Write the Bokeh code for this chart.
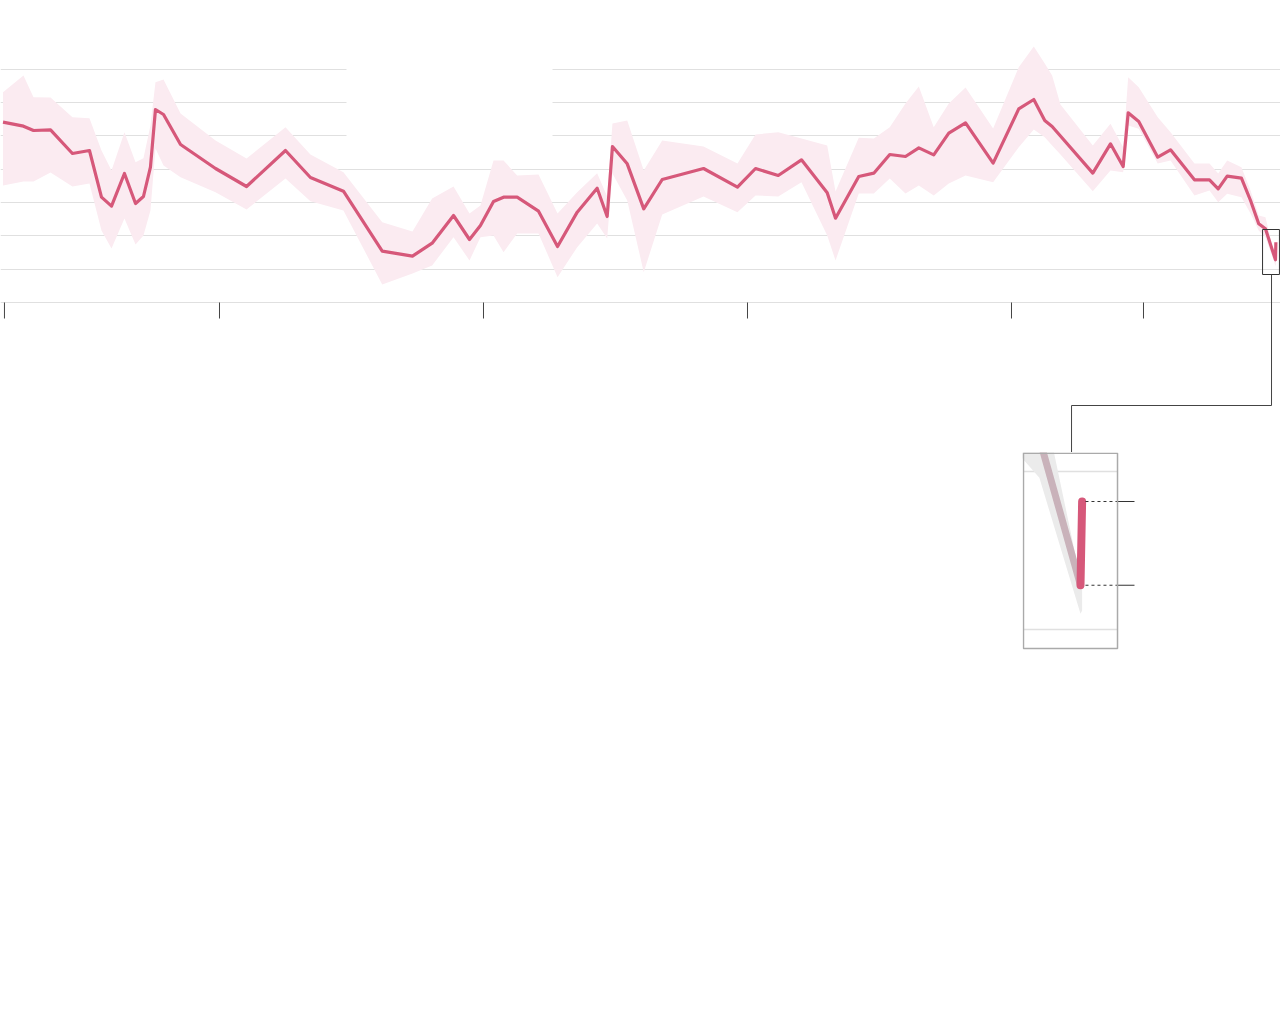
from bokeh.plotting import figure
from bokeh.layouts import column, row
from bokeh.models import Range1d, Grid, FixedTicker, Spacer, ColumnDataSource
from bokeh.embed import file_html
from bokeh.resources import INLINE

# ---------------- data (decimal year, percent) ----------------
years = [2008.36, 2008.515, 2008.591, 2008.720, 2008.886, 2009.015, 2009.106, 2009.182,
         2009.280, 2009.364, 2009.424, 2009.477, 2009.515, 2009.576, 2009.705, 2009.970,
         2010.205, 2010.500, 2010.689, 2010.939, 2011.233, 2011.462, 2011.611, 2011.773,
         2011.894, 2011.977, 2012.076, 2012.152, 2012.255, 2012.417, 2012.561, 2012.710,
         2012.861, 2012.937, 2012.977, 2013.089, 2013.214, 2013.354, 2013.667, 2013.924,
         2014.061, 2014.233, 2014.409, 2014.604, 2014.667, 2014.843, 2014.957, 2015.078,
         2015.197, 2015.298, 2015.411, 2015.525, 2015.652, 2015.861, 2016.055, 2016.169,
         2016.252, 2016.308, 2016.371, 2016.616, 2016.750, 2016.846, 2016.884, 2016.964,
         2017.108, 2017.205, 2017.386, 2017.500, 2017.566, 2017.634, 2017.742, 2017.811,
         2017.873, 2017.924, 2018.000, 2018.003]
approval = [57.05, 56.45, 55.8, 55.9, 52.35, 52.8, 45.8, 44.45,
            49.35, 44.85, 45.9, 50.3, 58.95, 58.2, 53.7, 50.1,
            47.4, 52.8, 48.75, 46.7, 37.7, 36.95, 38.9, 43.05,
            39.45, 41.55, 45.15, 45.8, 45.8, 43.7, 38.4, 43.55,
            47.15, 42.9, 53.4, 50.8, 44.05, 48.45, 50.1, 47.3,
            50.1, 49.05, 51.4, 46.45, 42.65, 48.9, 49.4, 52.2,
            51.9, 53.2, 52.15, 55.4, 56.95, 50.9, 59.05, 60.45,
            57.3, 56.4, 54.98, 49.4, 53.8, 50.4, 58.45, 57.15,
            51.8, 52.9, 48.4, 48.4, 47.05, 48.95, 48.65, 45.3,
            41.8, 41.05, 36.4, 39.05]
upper = [61.55, 64.05, 60.8, 60.75, 57.8, 57.65, 52.8, 49.8,
         55.55, 51.05, 51.65, 56.55, 63.05, 63.45, 58.35, 54.3,
         51.6, 56.3, 52.2, 49.55, 42.05, 40.65, 45.6, 47.4,
         43.35, 44.55, 51.3, 51.3, 49.05, 49.2, 43.35, 46.55,
         49.4, 45.9, 56.85, 57.3, 49.8, 54.3, 53.4, 50.85,
         55.2, 55.55, 54.6, 53.55, 46.65, 54.7, 54.6, 56.3,
         59.85, 62.4, 56.3, 59.85, 62.25, 56.1, 65.3, 68.4,
         65.85, 64.05, 59.7, 53.55, 56.8, 53.3, 63.8, 62.3,
         57.8, 55.55, 50.85, 50.85, 49.35, 51.3, 50.3, 46.8,
         43.05, 42.8, 36.6, 39.5]
lower = [47.55, 48.15, 48.15, 49.5, 47.4, 47.85, 40.8, 38.1,
         42.6, 38.7, 40.05, 43.8, 53.1, 50.55, 48.8, 46.55,
         43.95, 48.6, 45.2, 43.8, 32.7, 34.35, 35.55, 39.8,
         36.3, 39.8, 40.05, 37.55, 40.35, 40.35, 33.8, 38.3,
         41.85, 39.6, 49.35, 45.3, 34.55, 43.2, 45.9, 43.55,
         46.05, 45.9, 48.05, 40.05, 36.3, 46.35, 46.35, 48.6,
         46.35, 47.55, 46.05, 47.85, 49.05, 48.05, 53.3, 55.95,
         54.8, 53.55, 52.2, 46.7, 49.8, 49.55, 56.55, 56.05,
         50.85, 51.3, 46.05, 46.8, 45.05, 46.3, 45.8, 43.35,
         40.8, 39.8, 35.5, 35.6]

grid_values = [30, 35, 40, 45, 50, 55, 60, 65]
tick_years = [2008.371, 2010, 2012, 2014, 2016, 2017]
inset_grid_values = [35, 40]

# ---------------- styles ----------------
LINE = "#d6587a"
BAND = "#fbebf1"
GRID = "#e0e0e0"
DARK = "#444444"

# ---------------- main chart ----------------
p = figure(width=1280, height=452, x_range=Range1d(2008.341, 2018.038),
           y_range=Range1d(7.5, 75.3), output_backend="svg", toolbar_location=None,
           x_axis_location=None, y_axis_location=None, min_border=0,
           outline_line_color=None, background_fill_color="white")
for g in p.grid:
    g.visible = False
p.add_layout(Grid(dimension=1, ticker=FixedTicker(ticks=grid_values),
                  grid_line_color=GRID, grid_line_width=1.2))

# white area interrupting the upper gridlines
p.quad(left=[2010.962], right=[2012.523], bottom=[52.5], top=[67],
       fill_color="white", line_color=None)

src = ColumnDataSource(dict(x=years, y=approval, lo=lower, hi=upper))
p.varea(x="x", y1="lo", y2="hi", source=src, fill_color=BAND, fill_alpha=1)
p.line(x="x", y="y", source=src, line_color=LINE, line_width=3.2, line_join="round")

# tick marks below baseline
p.segment(x0=tick_years, y0=[30] * len(tick_years), x1=tick_years,
          y1=[27.6] * len(tick_years), line_color=DARK, line_width=1)

# small highlight box and connector
p.quad(left=[2017.902], right=[2018.030], bottom=[34.2], top=[40.95],
       fill_color=None, line_color="#333333", line_width=1)
p.line(x=[2017.970, 2017.970, 2016.455, 2016.455], y=[34.2, 14.55, 14.55, 7.5],
       line_color=DARK, line_width=1)

# ---------------- inset ----------------
box_l, box_r, box_b, box_t = 2017.8946, 2018.0684, 34.399, 40.58
q = figure(width=114, height=198, x_range=Range1d(2017.8928, 2018.1035),
           y_range=Range1d(34.335, 40.601), output_backend="svg", toolbar_location=None,
           x_axis_location=None, y_axis_location=None, min_border=0,
           outline_line_color=None, background_fill_color="white")
for g in q.grid:
    g.visible = False

q.segment(x0=[box_l] * 2, x1=[box_r] * 2, y0=inset_grid_values, y1=inset_grid_values,
          line_color=GRID, line_width=1.5)
n_in = 5
q.varea(x=years[-n_in:], y1=lower[-n_in:], y2=upper[-n_in:], fill_color="#ebebeb")
q.line(x=years[-n_in:-1], y=approval[-n_in:-1], line_color="#c9b2ba", line_width=7)
q.line(x=years[-2:], y=approval[-2:], line_color=LINE, line_width=8, line_cap="round")
lead_y = [approval[-1], approval[-2]]
q.segment(x0=[2018.0092] * 2, x1=[box_r] * 2, y0=lead_y, y1=lead_y,
          line_color="#333333", line_width=1, line_dash="3 3")
q.segment(x0=[box_r] * 2, x1=[2018.0998] * 2, y0=lead_y, y1=lead_y,
          line_color="#333333", line_width=1)
q.quad(left=[box_l], right=[box_r], bottom=[box_b], top=[box_t],
       fill_color=None, line_color="#aaaaaa", line_width=1.5)

layout = column(p, row(Spacer(width=1022, height=198), q))

open("out.html", "w").write(file_html(layout, INLINE))
